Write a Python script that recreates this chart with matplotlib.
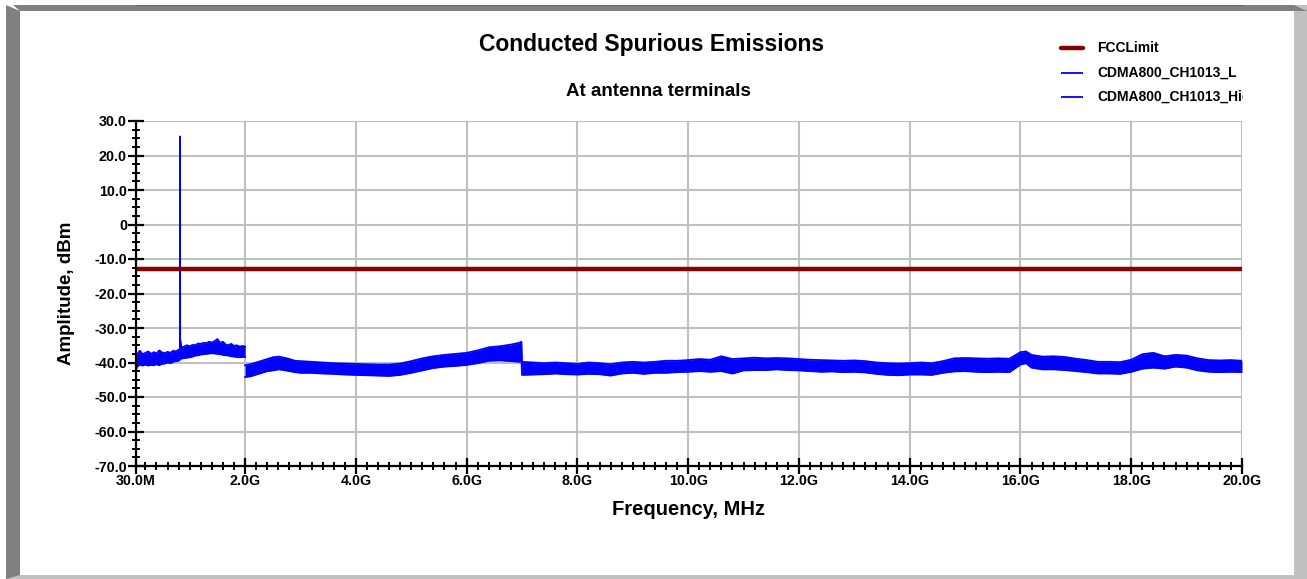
import matplotlib
matplotlib.use("Agg")
import matplotlib.pyplot as plt
from matplotlib.patches import Rectangle, Polygon
from matplotlib.ticker import MultipleLocator, FixedLocator, FuncFormatter

plt.rcParams['font.family'] = ['Liberation Sans', 'DejaVu Sans']

# ---------------- data (MHz, dBm) ----------------
limit_freq = [30, 20000]
limit_level = [-13, -13]

# CDMA800_CH1013_L : 30 MHz - 2 GHz (band envelope)
freq_L = [30, 50, 100, 150, 200, 250, 300, 350, 400, 450, 500, 550, 600, 650, 700, 750,
          800, 822, 824.7, 827, 850, 900, 950, 1000, 1050, 1100, 1150, 1200, 1250, 1300,
          1350, 1400, 1450, 1500, 1550, 1600, 1650, 1700, 1750, 1800, 1850, 1900, 1950, 2000]
upper_L = [-38.5, -37.6, -36.6, -37.6, -37.2, -36.8, -37.5, -37.0, -37.4, -36.5, -37.1, -37.3,
           -36.9, -37.2, -36.6, -36.8, -36.3, -36.0, 25.5, -33.0, -35.6, -35.4, -35.0, -35.3,
           -34.9, -35.0, -34.5, -34.6, -34.3, -34.4, -34.0, -34.2, -33.8, -33.2, -34.3, -34.0,
           -34.8, -35.0, -34.6, -35.2, -35.0, -35.4, -35.2, -35.4]
lower_L = [-42.2, -41.2, -40.6, -40.9, -40.6, -40.9, -40.7, -40.8, -40.5, -40.8, -40.4, -40.3,
           -40.0, -40.2, -39.8, -39.6, -39.5, -39.2, -38.8, -38.8, -38.9, -38.7, -38.6, -38.5,
           -38.3, -38.0, -37.9, -37.7, -37.6, -37.5, -37.4, -37.3, -37.4, -37.5, -37.6, -37.8,
           -37.9, -38.0, -38.2, -38.3, -38.4, -38.5, -38.4, -38.4]

# CDMA800_CH1013_High : 2 GHz - 20 GHz
freq_H = [2000, 2100, 2200, 2300, 2400, 2500, 2600, 2700, 2800, 2900, 3000, 3200, 3400, 3600,
          3800, 4000, 4200, 4400, 4600, 4800, 5000, 5200, 5400, 5600, 5800, 6000, 6200, 6400,
          6600, 6800, 6950, 6990, 7000, 7200, 7400, 7600, 7800, 8000, 8200, 8400, 8600, 8800,
          9000, 9200, 9400, 9600, 9800, 10000, 10200, 10400, 10600, 10800, 11000, 11200, 11400,
          11600, 11800, 12000, 12200, 12400, 12600, 12800, 13000, 13200, 13400, 13600, 13800,
          14000, 14200, 14400, 14600, 14800, 15000, 15200, 15400, 15600, 15800, 16000, 16100,
          16200, 16400, 16600, 16800, 17000, 17200, 17400, 17600, 17800, 18000, 18200, 18400,
          18600, 18800, 19000, 19200, 19400, 19600, 19800, 20000]
upper_H = [-40.8, -40.5, -40.0, -39.5, -39.0, -38.5, -38.3, -38.6, -39.0, -39.5, -39.6, -39.8,
           -40.0, -40.2, -40.3, -40.4, -40.5, -40.6, -40.6, -40.3, -39.6, -38.8, -38.2, -37.8,
           -37.5, -37.2, -36.5, -35.6, -35.3, -34.8, -34.3, -34.0, -39.8, -40.0, -40.2, -40.0,
           -40.2, -40.4, -40.0, -40.2, -40.5, -40.0, -39.8, -40.0, -39.8, -39.5, -39.5, -39.3,
           -39.0, -39.2, -38.2, -39.0, -38.8, -38.6, -38.8, -38.7, -38.8, -39.0, -39.2, -39.3,
           -39.4, -39.5, -39.4, -39.6, -40.0, -40.2, -40.3, -40.2, -40.0, -40.2, -39.6, -38.8,
           -38.7, -38.8, -38.9, -38.8, -38.9, -37.0, -36.8, -37.8, -38.3, -38.2, -38.4, -38.9,
           -39.3, -39.8, -39.8, -39.9, -39.2, -37.6, -37.2, -38.2, -37.8, -38.0, -38.8, -39.3,
           -39.4, -39.3, -39.5]
lower_H = [-44.2, -44.0, -43.5, -43.0, -42.5, -42.3, -42.0, -42.2, -42.5, -42.8, -43.0, -43.0,
           -43.2, -43.3, -43.5, -43.6, -43.7, -43.8, -43.9, -43.6, -43.0, -42.3, -41.6, -41.2,
           -41.0, -40.7, -40.2, -39.5, -39.4, -39.6, -39.8, -39.5, -43.6, -43.5, -43.4, -43.2,
           -43.4, -43.5, -43.3, -43.4, -43.8, -43.2, -43.0, -43.3, -43.0, -43.0, -42.8, -42.7,
           -42.5, -42.7, -42.5, -43.2, -42.3, -42.2, -42.2, -42.0, -42.2, -42.3, -42.5, -42.7,
           -42.6, -42.8, -42.7, -42.9, -43.3, -43.6, -43.7, -43.5, -43.5, -43.6, -43.0, -42.6,
           -42.5, -42.7, -42.8, -42.7, -42.8, -40.6, -40.2, -41.5, -42.0, -42.0, -42.2, -42.5,
           -42.8, -43.2, -43.2, -43.3, -42.7, -41.8, -41.5, -41.8, -41.2, -41.5, -42.3, -42.7,
           -42.8, -42.7, -42.8]

x_major = [30, 2000, 4000, 6000, 8000, 10000, 12000, 14000, 16000, 18000, 20000]
x_labels = ["30.0M", "2.0G", "4.0G", "6.0G", "8.0G", "10.0G", "12.0G", "14.0G", "16.0G", "18.0G", "20.0G"]
y_labels = {30: "30.0", 20: "20.0", 10: "10.0", 0: "0", -10: "-10.0", -20: "-20.0",
            -30: "-30.0", -40: "-40.0", -50: "-50.0", -60: "-60.0", -70: "-70.0"}

series_names = ["FCCLimit", "CDMA800_CH1013_L", "CDMA800_CH1013_High"]
limit_color = "#880000"
trace_color = "#0000ff"

# ---------------- figure ----------------
W, H = 1307, 579
fig = plt.figure(figsize=(W / 100, H / 100), dpi=100)

def px(x0, y0, w, h):
    return [x0 / W, 1 - (y0 + h) / H, w / W, h / H]

# bevel frame
frame = fig.add_axes([0, 0, 1, 1])
frame.set_xlim(0, W)
frame.set_ylim(H, 0)
frame.axis("off")
frame.add_patch(Rectangle((1294, 5), 13, 574, color="#c0c0c0", lw=0))
frame.add_patch(Rectangle((6, 575), 1301, 4, color="#c0c0c0", lw=0))
frame.add_patch(Polygon([(6, 5), (1294, 5), (1307, 11), (1294, 11), (20, 11), (20, 575), (6, 579)],
                        closed=True, color="#808080", lw=0))
frame.add_patch(Polygon([(6, 5), (13, 5), (20, 11)], closed=True, color="white", lw=0))
frame.plot([136, 1243], [5.3, 5.3], color="#228b22", lw=0.6)

ax = fig.add_axes(px(136, 121, 1106, 345))
ax.set_xlim(30, 20000)
ax.set_ylim(-70, 30)

ax.fill_between(freq_L, lower_L, upper_L, color=trace_color, lw=0)
ax.plot(freq_L, upper_L, color=trace_color, lw=1.3)
ax.plot(freq_L, lower_L, color=trace_color, lw=1.3)
ax.fill_between(freq_H, lower_H, upper_H, color=trace_color, lw=0)
ax.plot(freq_H, upper_H, color=trace_color, lw=1.3)
ax.plot(freq_H, lower_H, color=trace_color, lw=1.3)
ax.plot(limit_freq, limit_level, color=limit_color, lw=3.2, solid_capstyle="butt")

ax.xaxis.set_major_locator(FixedLocator(x_major))
ax.set_xticklabels(x_labels)
ax.xaxis.set_minor_locator(MultipleLocator(200))
ax.yaxis.set_major_locator(MultipleLocator(10))
ax.yaxis.set_minor_locator(MultipleLocator(2.5))
ax.yaxis.set_major_formatter(FuncFormatter(lambda v, p: y_labels.get(int(round(v)), "")))

ax.grid(True, which="major", color="#c0c0c0", lw=1.5)
ax.set_axisbelow(True)
for s in ("top", "right"):
    ax.spines[s].set_visible(False)
for s in ("left", "bottom"):
    ax.spines[s].set_linewidth(1.6)
    ax.spines[s].set_zorder(5)

ax.tick_params(which="major", direction="inout", length=11, width=1.6, labelsize=10.3, pad=1)
ax.tick_params(which="minor", direction="inout", length=6, width=1.4)
for lab in ax.get_xticklabels() + ax.get_yticklabels():
    lab.set_fontweight("bold")
ax.tick_params(axis="x", pad=0)

ax.set_xlabel("Frequency, MHz", fontsize=14.5, fontweight="bold", labelpad=9)
ax.set_ylabel("Amplitude, dBm", fontsize=13.5, fontweight="bold", labelpad=14)

fig.text(652 / W, 1 - 44 / H, "Conducted Spurious Emissions", ha="center", va="center",
         fontsize=16.5, fontweight="bold")
fig.text(658 / W, 1 - 92 / H, "At antenna terminals", ha="center", va="center",
         fontsize=13.5, fontweight="bold")

# legend (clipped at right like the original)
lax = fig.add_axes(px(1050, 30, 193, 80))
lax.set_xlim(1050, 1243)
lax.set_ylim(110, 30)
lax.axis("off")
legend_y = [48, 73, 97]
legend_col = [limit_color, trace_color, trace_color]
legend_lw = [3.2, 1.3, 1.3]
for name, yy, c, lw in zip(series_names, legend_y, legend_col, legend_lw):
    lax.plot([1061, 1083], [yy, yy], color=c, lw=lw, solid_capstyle="round" if lw > 2 else "butt")
    t = lax.text(1097, yy, name, ha="left", va="center", fontsize=10, fontweight="bold")
    t.set_clip_box(lax.bbox)
    t.set_clip_on(True)

fig.savefig("out.png", dpi=100)
